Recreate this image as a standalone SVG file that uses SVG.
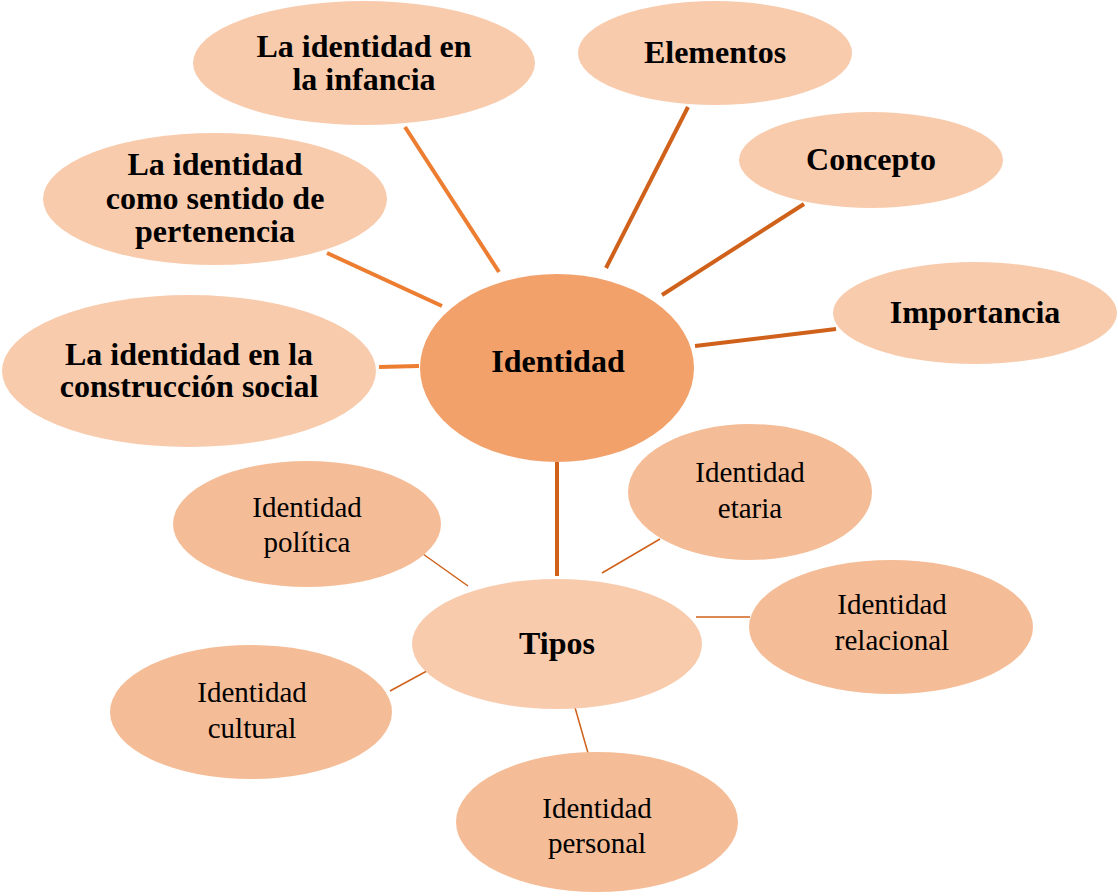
<svg xmlns="http://www.w3.org/2000/svg" width="1118" height="896" viewBox="0 0 1118 896">
<style>
.bg{fill:#ffffff}
.main{fill:#F8CBAD}
.center{fill:#F2A16B}
.type{fill:#F5BD97}
.lt{stroke:#ED7D31;stroke-width:4;fill:none}
.dk{stroke:#D0611A;stroke-width:4;fill:none}
.th{stroke:#D0611A;stroke-width:1.5;fill:none}
text{font-family:"Liberation Serif","Times New Roman",serif;fill:#000;text-anchor:middle}
.b{font-weight:bold;font-size:32px}
.r{font-size:29px}
</style>
<rect class="bg" x="0" y="0" width="1118" height="896"/>
<g id="connectors">
<line class="lt" x1="405" y1="127" x2="499" y2="272"/>
<line class="dk" x1="688" y1="107" x2="606" y2="268"/>
<line class="dk" x1="804" y1="204" x2="662" y2="295"/>
<line class="dk" x1="836" y1="329" x2="695" y2="346"/>
<line class="lt" x1="327" y1="253" x2="442" y2="306"/>
<line class="lt" x1="379" y1="367" x2="419" y2="366"/>
<line class="dk" x1="557" y1="462" x2="557" y2="576"/>
<line class="th" x1="423" y1="554" x2="468" y2="586"/>
<line class="th" x1="602" y1="573" x2="660" y2="539"/>
<line class="th" x1="696" y1="617" x2="750" y2="617"/>
<line class="th" x1="390" y1="691" x2="436" y2="666"/>
<line class="th" x1="574" y1="704" x2="590" y2="760"/>
</g>
<g id="node-infancia">
<ellipse class="main" cx="364" cy="63" rx="171" ry="62"/>
<text class="b" x="364" y="57">La identidad en</text>
<text class="b" x="364" y="90">la infancia</text>
</g>
<g id="node-elementos">
<ellipse class="main" cx="715" cy="53" rx="137" ry="52"/>
<text class="b" x="715" y="63">Elementos</text>
</g>
<g id="node-concepto">
<ellipse class="main" cx="871" cy="160" rx="132" ry="48"/>
<text class="b" x="871" y="170">Concepto</text>
</g>
<g id="node-importancia">
<ellipse class="main" cx="975" cy="313" rx="142" ry="51"/>
<text class="b" x="975" y="323">Importancia</text>
</g>
<g id="node-pertenencia">
<ellipse class="main" cx="215" cy="199" rx="172" ry="66"/>
<text class="b" x="215" y="175">La identidad</text>
<text class="b" x="215" y="209">como sentido de</text>
<text class="b" x="215" y="242">pertenencia</text>
</g>
<g id="node-construccion">
<ellipse class="main" cx="189" cy="371" rx="187" ry="76"/>
<text class="b" x="189" y="365">La identidad en la</text>
<text class="b" x="189" y="397">construcción social</text>
</g>
<g id="node-identidad">
<ellipse class="center" cx="557" cy="368" rx="137" ry="94"/>
<text class="b" x="558" y="372">Identidad</text>
</g>
<g id="node-tipos">
<ellipse class="main" cx="557" cy="644" rx="145" ry="65"/>
<text class="b" x="557" y="654">Tipos</text>
</g>
<g id="node-politica">
<ellipse class="type" cx="307" cy="524" rx="134" ry="63"/>
<text class="r" x="307" y="517">Identidad</text>
<text class="r" x="307" y="552">política</text>
</g>
<g id="node-etaria">
<ellipse class="type" cx="750" cy="492" rx="122" ry="68"/>
<text class="r" x="750" y="482">Identidad</text>
<text class="r" x="750" y="518">etaria</text>
</g>
<g id="node-relacional">
<ellipse class="type" cx="891" cy="627" rx="142" ry="67"/>
<text class="r" x="892" y="614">Identidad</text>
<text class="r" x="892" y="650">relacional</text>
</g>
<g id="node-cultural">
<ellipse class="type" cx="251" cy="712" rx="141" ry="67"/>
<text class="r" x="252" y="702">Identidad</text>
<text class="r" x="252" y="738">cultural</text>
</g>
<g id="node-personal">
<ellipse class="type" cx="597" cy="822" rx="141" ry="70"/>
<text class="r" x="597" y="818">Identidad</text>
<text class="r" x="597" y="853">personal</text>
</g>
</svg>
